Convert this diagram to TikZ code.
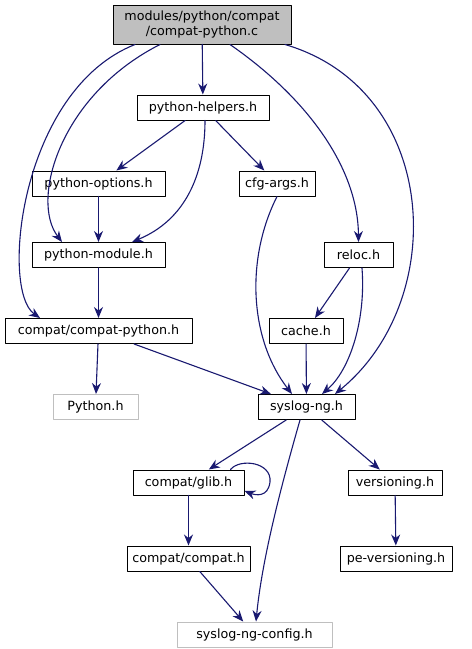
\documentclass[tikz,border=0pt]{standalone}
\usepackage{fontspec}
\setmainfont{DejaVu Sans}
\usetikzlibrary{arrows.meta,calc,positioning}
\definecolor{edgeblue}{RGB}{25,25,112}
\definecolor{boxgray}{RGB}{191,191,191}
\definecolor{linegray}{RGB}{191,191,191}
\tikzset{
  every node/.style={font=\fontsize{12.7}{15}\selectfont},
  file/.style={draw=black, fill=white, line width=1pt, inner sep=0pt,
    minimum height=25pt, align=center},
  main file/.style={file, fill=boxgray, minimum height=39pt},
  sys file/.style={file, draw=linegray},
  dep/.style={draw=edgeblue, line width=1.1pt, -{Stealth[length=11pt,width=9pt]}}
}

\begin{document}
\begin{tikzpicture}[x=1pt, y=-1pt, line cap=round, line join=round]
  \useasboundingbox (0,0) rectangle (472,649);

  \node[main file, minimum width=178pt] (top) at (202,24.5)
    {modules/python/compat\\/compat-python.c};
  \node[file, minimum width=132pt] (helpers) at (203,107.5) {python-helpers.h};
  \node[file, minimum width=133pt] (options) at (98.5,183.5) {python-options.h};
  \node[file, minimum width=76pt] (cfgargs) at (277,183.5) {cfg-args.h};
  \node[file, minimum width=133pt] (module) at (98.5,255) {python-module.h};
  \node[file, minimum width=69pt] (reloc) at (358.5,255) {reloc.h};
  \node[file, minimum width=187pt] (compatpy) at (98.5,331) {compat/compat-python.h};
  \node[file, minimum width=74pt] (cache) at (306,331) {cache.h};
  \node[sys file, minimum width=85pt] (python) at (95.5,407) {Python.h};
  \node[file, minimum width=97pt] (syslog) at (306.5,407) {syslog-ng.h};
  \node[file, minimum width=111pt] (glib) at (188.5,482.5) {compat/glib.h};
  \node[file, minimum width=94pt] (versioning) at (395,482.5) {versioning.h};
  \node[file, minimum width=123pt] (compat) at (188.5,558.5) {compat/compat.h};
  \node[file, minimum width=112pt] (peversioning) at (396,558.5) {pe-versioning.h};
  \node[sys file, minimum width=155pt] (config) at (254.5,634.5) {syslog-ng-config.h};

  % from the source file
  \draw[dep] (top) -- (helpers);
  \draw[dep] (top.south -| 160,0) .. controls (60,95) and (30,200) .. (module.north -| 62,0);
  \draw[dep] (top.south -| 135,0) .. controls (20,90) and (0,290) .. (compatpy.north -| 40,0);
  \draw[dep] (top.south -| 230,0) .. controls (310,100) and (358,170) .. (reloc.north);
  \draw[dep] (top.south -| 285,0) .. controls (440,90) and (450,300) .. (syslog.north -| 335,0);

  % python headers
  \draw[dep] (helpers) -- (options);
  \draw[dep] (helpers.south -| 205,0) .. controls (205,175) and (185,220) .. (module.north -| 132,0);
  \draw[dep] (helpers) -- (cfgargs);
  \draw[dep] (options) -- (module);
  \draw[dep] (module) -- (compatpy);
  \draw[dep] (compatpy) -- (python);
  \draw[dep] (compatpy) -- (syslog);

  % core headers
  \draw[dep] (cfgargs.south) .. controls (245,260) and (250,340) .. (syslog.north -| 292,0);
  \draw[dep] (reloc) -- (cache);
  \draw[dep] (reloc.south -| 362,0) .. controls (366,320) and (350,370) .. (syslog.north -| 322,0);
  \draw[dep] (cache) -- (syslog);
  \draw[dep] (syslog) -- (glib);
  \draw[dep] (syslog) -- (versioning);
  \draw[dep] (syslog.south -| 300,0) .. controls (280,490) and (262,560) .. (config.north -| 256,0);
  \draw[dep] (glib.north east) ++(-14,0) .. controls (240,458) and (272,462) .. (270,482)
    .. controls (268,498) and (255,495) .. (glib.east |- 0,491);
  \draw[dep] (glib) -- (compat);
  \draw[dep] (compat) -- (config);
  \draw[dep] (versioning) -- (peversioning);
\end{tikzpicture}
\end{document}
